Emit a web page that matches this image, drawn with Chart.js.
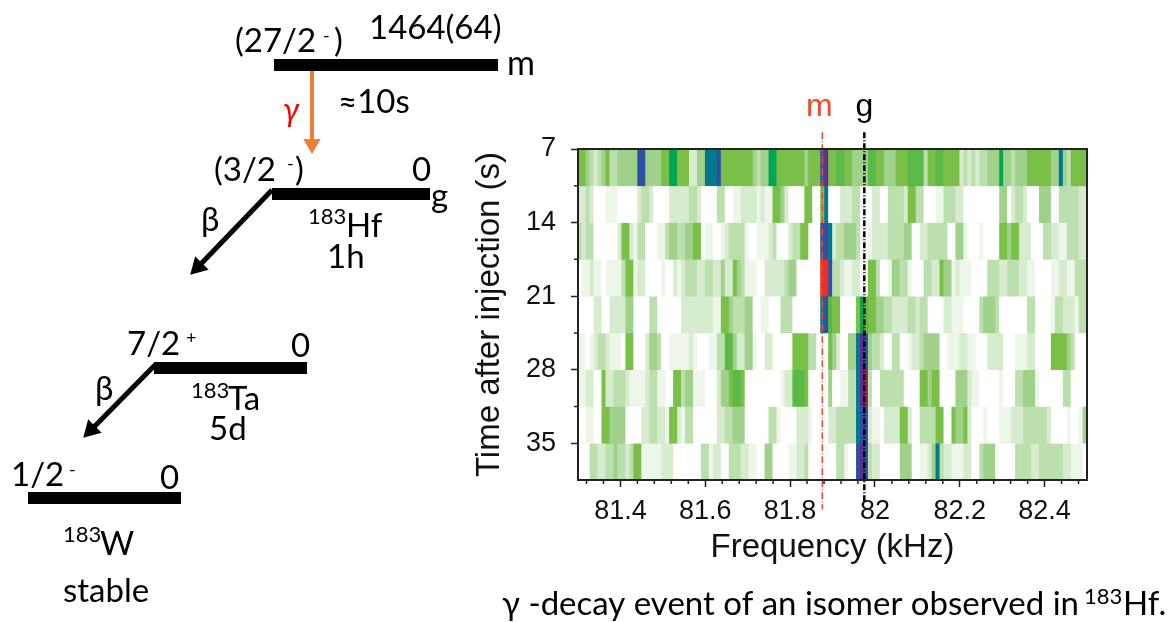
<!DOCTYPE html>
<html>
<head>
<meta charset="utf-8">
<title>183Hf isomer decay</title>
<script src="https://cdn.jsdelivr.net/npm/chart.js@4"></script>
<style>
    html, body { margin: 0; padding: 0; background: #fff; }
    #page { position: relative; width: 1176px; height: 622px; overflow: hidden; }
    canvas { position: absolute; left: 0; top: 0; }
    #heatChart { filter: blur(0.6px); }
</style>
</head>
<body>
<div id="page">
    <canvas id="schemeChart" width="1176" height="622"></canvas>
    <canvas id="heatChart" width="1176" height="622"></canvas>
</div>
<script>
// heatmap values, one list per 3.5 s row, 128 frequency bins
const row07 = [5,5,4,3,2,3,4,5,3,3, 4,4,4,4,4,9,9,4,4,4, 4,5,5,7,7,5,5,5,2,2, 4,4,8,8,8,9,5,5,5,5, 5,5,5,5,4,3,4,4,7,7, 5,5,5,5,5,5,5,4,5,5, 5,9,10,5,5,6,6,5,5,4, 4,4,4,6,6,5,5,4,4,4, 5,5,5,6,6,6,6,3,5,5, 6,6,5,5,5,5,2,3,2,3, 2,3,3,4,4,4,7,4,4,3, 4,4,4,5,5,5,5,5,5,4, 4,8,4,3,5,5,5,5];
const row10 = [2,2,3,2,0,0,0,1,1,1, 0,0,0,0,0,2,3,3,2,0, 0,0,0,2,2,2,2,2,3,3, 2,0,0,0,0,3,3,0,0,1, 1,2,2,2,2,1,2,1,1,5, 5,4,2,0,0,0,0,5,5,0, 0,5,8,0,0,0,2,2,2,3, 3,0,0,0,2,2,0,0,3,3, 3,3,2,5,5,3,3,0,0,0, 1,1,3,3,3,2,2,0,0,0, 0,0,0,0,0,0,4,4,0,2, 3,3,2,0,0,0,4,4,4,0, 0,3,3,3,3,3,2,2];
const row14 = [3,2,3,3,0,0,0,0,0,0, 2,5,5,2,1,3,3,0,0,0, 1,1,3,4,4,3,3,4,4,5, 5,0,1,1,0,0,1,2,3,3, 3,3,1,0,0,1,1,1,2,3, 0,0,0,2,3,3,5,5,0,0, 0,9,9,8,2,3,3,4,4,4, 3,0,0,1,2,2,2,2,3,3, 3,3,4,4,0,0,2,2,3,3, 3,3,3,0,0,4,4,1,0,0, 0,1,0,0,0,0,5,5,4,5, 5,2,2,2,0,0,0,3,3,2, 2,1,1,3,3,3,2,2];
const row17 = [0,1,1,2,1,1,0,1,1,1, 1,3,5,5,1,2,2,0,0,0, 0,1,0,0,2,1,2,3,3,3, 2,2,3,3,2,2,4,2,2,5, 4,3,1,1,1,0,0,2,2,2, 2,2,3,4,4,0,0,0,0,0, 0,12,12,9,3,3,2,1,1,2, 2,0,0,5,5,3,0,0,1,4, 4,3,3,1,0,0,0,3,3,2, 2,5,4,4,1,2,1,1,1,0, 0,0,0,3,3,3,2,2,3,3, 3,2,2,1,1,0,0,0,0,1, 1,2,2,1,1,3,3,3];
const row21 = [0,0,0,0,2,2,0,0,2,2, 2,2,4,4,0,0,0,0,3,3, 0,0,0,0,0,0,2,2,2,2, 2,2,2,2,1,1,5,5,4,3, 3,3,4,4,0,0,1,1,0,0, 0,3,3,3,0,0,0,0,0,0, 0,8,9,6,5,5,0,0,0,0, 5,7,6,5,5,4,4,3,3,2, 2,2,2,3,3,2,3,3,0,0, 0,0,2,2,1,1,1,0,0,0, 0,3,4,4,4,3,0,0,0,0, 0,0,0,3,3,0,0,0,0,1, 3,3,2,2,2,1,3,3];
const row24 = [1,1,0,1,2,3,3,2,1,1, 1,0,5,5,0,0,0,2,4,4, 3,0,0,1,1,1,1,1,2,1, 0,0,0,1,1,3,3,6,6,4, 2,2,4,4,1,0,0,2,2,0, 0,0,0,0,5,5,5,5,3,3, 0,0,0,5,4,2,0,0,4,4, 8,10,9,4,3,3,2,0,0,3, 3,0,0,1,2,2,3,4,4,4, 4,0,0,1,1,1,2,2,1,1, 0,0,0,2,2,2,2,0,0,0, 1,1,1,2,2,0,0,0,0,5, 5,5,5,4,3,0,0,0];
const row28 = [1,1,2,2,0,0,5,2,2,3, 3,3,2,1,1,1,1,2,3,3, 1,1,0,0,5,5,3,4,4,1, 1,1,0,0,0,2,4,4,5,6, 6,5,0,0,0,0,0,0,0,0, 0,1,2,2,6,6,6,5,0,0, 0,0,0,4,0,0,1,1,3,3, 8,10,11,3,0,0,3,3,3,3, 3,3,0,0,0,0,5,5,4,5, 5,0,0,0,0,4,4,4,2,1, 1,0,0,0,0,0,1,0,0,0, 3,3,4,4,4,1,0,0,0,0, 0,0,3,3,0,0,0,0];
const row31 = [0,0,1,1,0,0,5,5,4,4, 4,4,0,0,0,0,2,2,3,3, 2,2,1,5,5,2,1,3,3,0, 0,0,0,0,0,2,2,3,3,4, 4,4,0,0,0,0,0,0,3,3, 1,0,0,0,0,2,2,2,1,0, 0,0,0,2,2,3,3,3,3,3, 8,9,9,2,1,1,0,2,2,2, 2,5,5,2,0,0,3,3,3,3, 5,5,0,0,5,4,4,5,2,0, 0,0,1,0,0,0,1,1,1,2, 2,2,3,3,3,3,3,3,2,0, 0,0,0,1,0,0,1,4];
const row35 = [0,0,0,3,3,2,2,3,3,4, 3,3,2,3,5,5,1,1,1,1, 1,2,2,2,0,0,0,0,0,0, 0,3,3,1,2,2,0,0,3,3, 3,2,2,1,1,0,0,4,4,0, 0,0,0,1,1,2,2,3,0,0, 0,0,0,0,0,3,3,1,0,0, 9,10,9,3,2,2,0,0,0,0, 0,4,4,4,0,0,1,1,2,4, 8,3,2,2,1,1,1,2,2,0, 0,3,4,4,4,0,0,0,0,0, 3,3,3,3,2,2,3,3,3,3, 3,3,2,2,1,1,1,0];

const rows = [row07, row10, row14, row17, row21, row24, row28, row31, row35];
const rowStarts = [7, 10.5, 14, 17.5, 21, 24.5, 28, 31.5, 35];
const rowHeight = 3.5;
const binCentres = row07.map((v, i) => i);

const freqTicks = [81.4, 81.6, 81.8, 82, 82.2, 82.4];
const freqMinorTicks = [81.32, 81.36, 81.44, 81.48, 81.52, 81.56, 81.64, 81.68, 81.72, 81.76, 81.84, 81.88, 81.92, 81.96, 82.04, 82.08, 82.12, 82.16, 82.24, 82.28, 82.32, 82.36, 82.44, 82.48];
const timeTicks = [7, 14, 21, 28, 35];
const timeMinorTicks = [10.5, 17.5, 24.5, 31.5];

// the two transition lines
const isomerFreq = 81.876;
const groundFreq = 81.975;
const isomerLineTimes = [5.4, 41.3];
const groundLineTimes = [5.4, 40.6];

// colour for each count level
const levelColors = ['#ffffff', '#eef6ea', '#d7ebcf', '#bcdfae', '#a0d18b', '#7abf48', '#5ab947', '#00a651', '#00788f', '#2e4fa2', '#5b2e91', '#9c1f6c', '#ee2a24'];

// level scheme, in page units
const levelNames = ['m', 'g', 'Ta', 'W'];
const levelFrom = [274, 272, 154, 28];
const levelTo = [498, 430, 307, 181];
const levelHeights = [65, 194, 368, 498];

const sansFont = 'Lato, "Open Sans", sans-serif';
const schemeLabels = [
    { text: '(27/2', x: 235, y: 52, size: 33 },
    { text: '-', x: 323, y: 42, size: 18 },
    { text: ')', x: 334, y: 52, size: 33 },
    { text: '1464(64)', x: 369, y: 39, size: 33 },
    { text: 'm', x: 507, y: 75, size: 34 },
    { text: 'γ', x: 283, y: 121, size: 32, color: '#ff0000', style: 'italic' },
    { text: '≈10s', x: 338, y: 113, size: 33 },
    { text: '(3/2', x: 214, y: 181, size: 33 },
    { text: '-', x: 287, y: 170, size: 18 },
    { text: ')', x: 295, y: 181, size: 33 },
    { text: '0', x: 412, y: 181, size: 33 },
    { text: 'g', x: 431, y: 207, size: 33 },
    { text: 'β', x: 201, y: 231, size: 33 },
    { text: '183', x: 308, y: 224, size: 22 },
    { text: 'Hf', x: 346, y: 237, size: 33 },
    { text: '1h', x: 327, y: 268, size: 33 },
    { text: '7/2', x: 127, y: 355, size: 33 },
    { text: '+', x: 186, y: 344, size: 18 },
    { text: '0', x: 291, y: 357, size: 33 },
    { text: 'β', x: 95, y: 400, size: 33 },
    { text: '183', x: 191, y: 398, size: 22 },
    { text: 'Ta', x: 228, y: 410, size: 33 },
    { text: '5d', x: 209, y: 440, size: 33 },
    { text: '1/2', x: 11, y: 486, size: 33 },
    { text: '-', x: 69, y: 476, size: 18 },
    { text: '0', x: 160, y: 489, size: 33 },
    { text: '183', x: 63, y: 542, size: 22 },
    { text: 'W', x: 100, y: 555, size: 33 },
    { text: 'stable', x: 63, y: 602, size: 33 },
    { text: 'γ -decay event of an isomer observed in', x: 502, y: 615, size: 33 },
    { text: '183', x: 1084, y: 604, size: 22 },
    { text: 'Hf.', x: 1123, y: 615, size: 33 }
];

const levelDatasets = levelNames.map((name, i) => ({
    label: name,
    data: [{ x: levelFrom[i], y: levelHeights[i] }, { x: levelTo[i], y: levelHeights[i] }],
    borderColor: '#000',
    borderWidth: 12,
    borderCapStyle: 'butt',
    pointRadius: 0
}));

// gamma and the two beta arrows
function arrowDataset(from, to, color, width, headSize, headRotation) {
    return {
        data: [{ x: from[0], y: from[1] }, { x: to[0], y: to[1] }],
        borderColor: color,
        backgroundColor: color,
        borderWidth: width,
        borderCapStyle: 'butt',
        pointStyle: 'triangle',
        pointRadius: [0, headSize],
        pointBorderWidth: 0,
        pointRotation: headRotation
    };
}

const schemeTextPlugin = {
    id: 'schemeText',
    afterDraw(chart) {
        const c = chart.ctx;
        c.save();
        c.textBaseline = 'alphabetic';
        c.textAlign = 'left';
        schemeLabels.forEach(l => {
            c.fillStyle = l.color || '#000';
            c.font = (l.style || '') + ' ' + l.size + 'px ' + sansFont;
            c.fillText(l.text, chart.scales.x.getPixelForValue(l.x), chart.scales.y.getPixelForValue(l.y));
        });
        c.restore();
    }
};

new Chart(document.getElementById('schemeChart').getContext('2d'), {
    type: 'line',
    data: {
        datasets: levelDatasets.concat([
            arrowDataset([312, 65], [312, 144], '#ed7d31', 4, 10, 180),
            arrowDataset([272, 190], [198, 267], '#000', 5, 11, 225),
            arrowDataset([156, 364], [91, 430], '#000', 5, 11, 225)
        ])
    },
    options: {
        responsive: false,
        animation: false,
        parsing: false,
        layout: { padding: 0, autoPadding: false },
        plugins: { legend: { display: false }, tooltip: { enabled: false } },
        scales: {
            x: { type: 'linear', display: false, min: 0, max: 1176 },
            y: { type: 'linear', display: false, min: 0, max: 622, reverse: true }
        }
    },
    plugins: [schemeTextPlugin]
});

// minor ticks, frame and the m / g labels
const heatExtrasPlugin = {
    id: 'heatExtras',
    afterDraw(chart) {
        const c = chart.ctx;
        const a = chart.chartArea;
        const xs = chart.scales.x;
        const ys = chart.scales.y;
        c.save();
        c.strokeStyle = '#222';
        c.lineWidth = 1.5;
        c.beginPath();
        freqMinorTicks.forEach(v => {
            const px = xs.getPixelForValue(v);
            c.moveTo(px, a.bottom);
            c.lineTo(px, a.bottom + 4);
        });
        timeMinorTicks.forEach(v => {
            const py = ys.getPixelForValue(v);
            c.moveTo(a.left, py);
            c.lineTo(a.left - 4, py);
        });
        c.stroke();
        c.lineWidth = 2;
        c.strokeStyle = '#222';
        c.strokeRect(a.left, a.top, a.right - a.left, a.bottom - a.top);
        c.font = '32px "Liberation Sans", Arial, sans-serif';
        c.textAlign = 'center';
        c.fillStyle = '#ee4b2b';
        c.fillText('m', xs.getPixelForValue(isomerFreq) - 3, 116);
        c.fillStyle = '#000';
        c.fillText('g', xs.getPixelForValue(groundFreq), 116);
        c.restore();
    }
};

const heatDatasets = rows.map((row, r) => ({
    type: 'bar',
    label: String(rowStarts[r]),
    xAxisID: 'xBins',
    yAxisID: 'y',
    data: row.map(() => [rowStarts[r], rowStarts[r] + rowHeight]),
    backgroundColor: row.map(v => levelColors[v]),
    borderWidth: 0,
    barPercentage: 1,
    categoryPercentage: 1,
    grouped: false,
    order: 2
}));

function markerLine(freq, times, color, width, dash) {
    return {
        type: 'line',
        xAxisID: 'x',
        yAxisID: 'y',
        data: times.map(t => ({ x: freq, y: t })),
        borderColor: color,
        borderWidth: width,
        borderDash: dash,
        pointRadius: 0,
        clip: false,
        order: 1
    };
}

const axisFont = { family: '"Liberation Sans", Arial, sans-serif', size: 27 };

new Chart(document.getElementById('heatChart').getContext('2d'), {
    type: 'bar',
    data: {
        labels: binCentres,
        datasets: heatDatasets.concat([
            markerLine(isomerFreq, isomerLineTimes, '#ee4b2b', 1.5, [7, 2, 1, 2]),
            markerLine(groundFreq, groundLineTimes, '#000', 2.5, [6, 2, 1, 2])
        ])
    },
    options: {
        responsive: false,
        animation: false,
        layout: { padding: { left: 470, top: 149, right: 89, bottom: 54 }, autoPadding: false },
        plugins: { legend: { display: false }, tooltip: { enabled: false } },
        scales: {
            xBins: { type: 'category', axis: 'x', display: false, offset: true, grid: { display: false } },
            x: {
                type: 'linear',
                position: 'bottom',
                min: 81.3,
                max: 82.5,
                offset: false,
                grid: { offset: false, drawOnChartArea: false, tickColor: '#222', tickWidth: 1.5, tickLength: 7 },
                border: { color: '#222', width: 2 },
                afterBuildTicks: s => { s.ticks = freqTicks.map(v => ({ value: v })); },
                afterFit: s => { s.height = 88; },
                ticks: { autoSkip: false, maxRotation: 0, color: '#111', font: axisFont, padding: 8, callback: v => String(v) },
                title: { display: true, text: 'Frequency (kHz)', color: '#111', padding: 0, font: { family: axisFont.family, size: 33 } }
            },
            y: {
                type: 'linear',
                reverse: true,
                min: 7,
                max: 38.5,
                grid: { drawOnChartArea: false, tickColor: '#222', tickWidth: 1.5, tickLength: 7 },
                border: { color: '#222', width: 2 },
                afterBuildTicks: s => { s.ticks = timeTicks.map(v => ({ value: v })); },
                afterFit: s => { s.width = 108; },
                ticks: { autoSkip: false, color: '#111', font: axisFont, padding: 15, callback: v => String(v) },
                title: { display: true, text: 'Time after injection (s)', color: '#111', padding: 0, font: { family: axisFont.family, size: 33 } }
            }
        }
    },
    plugins: [heatExtrasPlugin]
});
</script>
</body>
</html>
